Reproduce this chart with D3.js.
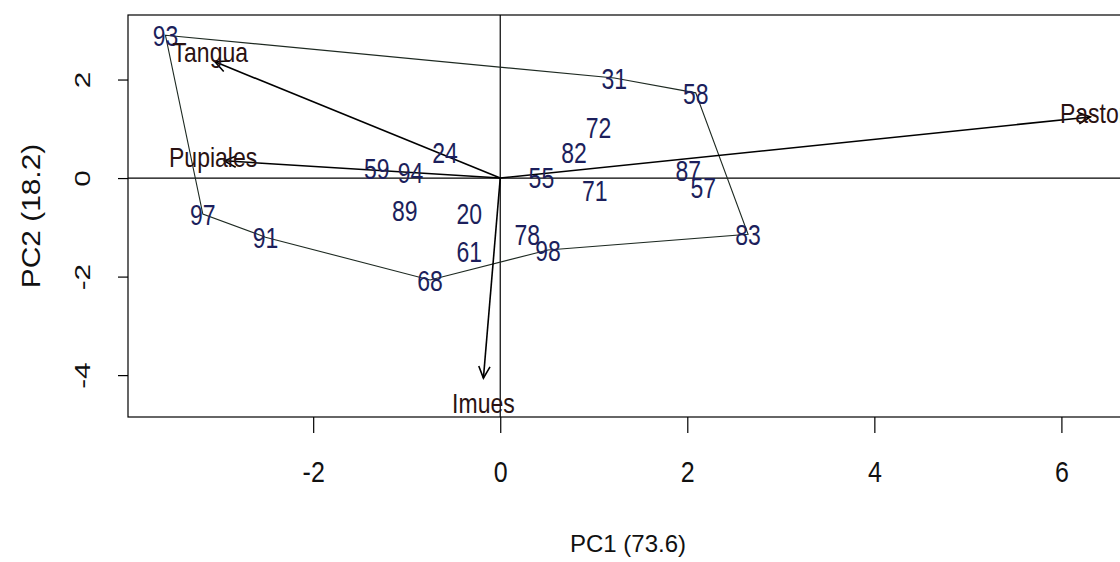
<!DOCTYPE html>
<html lang="en">
  <head>
    <meta charset="UTF-8" />
    <title>PCA biplot</title>
    <script src="https://cdn.jsdelivr.net/npm/d3@7"></script>
    <style>
      body { margin: 0; background: #fff; }
      text { font-family: "Liberation Sans", Arial, sans-serif; }
    </style>
  </head>
  <body>
    <svg width="1120" height="562"></svg>
    <script>
      // sample scores (PC1, PC2)
      const sampleIds = ["93", "31", "58", "72", "82", "24", "59", "94", "55", "71", "87",
                         "57", "83", "97", "91", "89", "20", "61", "78", "98", "68"];
      const pc1 = [-3.58, 1.22, 2.09, 1.05, 0.79, -0.59, -1.32, -0.96, 0.44, 1.01, 2.01,
                   2.17, 2.65, -3.18, -2.51, -1.02, -0.33, -0.33, 0.29, 0.51, -0.75];
      const pc2 = [2.90, 2.03, 1.73, 1.04, 0.53, 0.53, 0.20, 0.12, 0.02, -0.24, 0.16,
                   -0.18, -1.14, -0.73, -1.20, -0.65, -0.71, -1.48, -1.14, -1.46, -2.07];

      // outline drawn around the samples
      const hullOrder = ["93", "31", "58", "83", "98", "68", "91", "97"];

      // variable loadings (arrows) and where their names sit
      const varNames = ["Tangua", "Pupiales", "Pastor", "Imues"];
      const varPC1 = [-3.05, -2.95, 6.31, -0.18];
      const varPC2 = [2.36, 0.35, 1.24, -4.06];
      const varLabelPC1 = [-3.10, -3.07, 6.34, -0.18];
      const varLabelPC2 = [2.56, 0.43, 1.32, -4.57];

      const xTicks = [-2, 0, 2, 4, 6];
      const yTicks = [-4, -2, 0, 2];
      const xTitle = "PC1 (73.6)";
      const yTitle = "PC2 (18.2)";

      const svg = d3.select("svg");
      const box = { left: 128, top: 15, bottom: 417, right: 1125 };

      const x = d3.scaleLinear().domain([-3.98, 6.68]).range([box.left, box.right]);
      const y = d3.scaleLinear().domain([-4.85, 3.31]).range([box.bottom, box.top]);

      // frame
      svg.append("rect")
        .attr("x", box.left).attr("y", box.top)
        .attr("width", box.right - box.left).attr("height", box.bottom - box.top)
        .attr("fill", "none").attr("stroke", "#000").attr("stroke-width", 1.2);

      // zero lines
      svg.append("line")
        .attr("x1", box.left).attr("x2", box.right)
        .attr("y1", y(0)).attr("y2", y(0))
        .attr("stroke", "#000").attr("stroke-width", 1.2);
      svg.append("line")
        .attr("x1", x(0)).attr("x2", x(0))
        .attr("y1", box.top).attr("y2", box.bottom)
        .attr("stroke", "#000").attr("stroke-width", 1.2);

      // x axis
      const gx = svg.append("g")
        .attr("transform", `translate(0,${box.bottom})`)
        .call(d3.axisBottom(x).tickValues(xTicks).tickSize(16));
      gx.select(".domain").remove();
      gx.selectAll("line").attr("stroke", "#000").attr("stroke-width", 1.2);
      gx.selectAll("text")
        .attr("y", null).attr("dy", null)
        .attr("transform", "translate(0,65) scale(1,1.2)")
        .attr("font-size", 25).attr("fill", "#111")
        .text(d => String(d));

      // y axis
      const gy = svg.append("g")
        .attr("transform", `translate(${box.left},0)`)
        .call(d3.axisLeft(y).tickValues(yTicks).tickSize(10));
      gy.select(".domain").remove();
      gy.selectAll("line").attr("stroke", "#000").attr("stroke-width", 1.2);
      gy.selectAll("text")
        .attr("x", null).attr("dy", null)
        .attr("text-anchor", "middle")
        .attr("transform", "translate(-38,0) rotate(-90) scale(1.35,1)")
        .attr("font-size", 22).attr("fill", "#111")
        .text(d => String(d));

      // axis titles
      svg.append("text")
        .attr("x", 628).attr("y", 552)
        .attr("text-anchor", "middle")
        .attr("font-size", 24).attr("fill", "#111")
        .text(xTitle);
      svg.append("text")
        .attr("transform", "translate(40,216) rotate(-90) scale(1.15,1)")
        .attr("text-anchor", "middle")
        .attr("font-size", 26).attr("fill", "#111")
        .text(yTitle);

      // sample outline
      const idx = id => sampleIds.indexOf(id);
      const hullPts = hullOrder.map(id => [x(pc1[idx(id)]), y(pc2[idx(id)])]);
      svg.append("path")
        .attr("d", d3.line()(hullPts) + "Z")
        .attr("fill", "none")
        .attr("stroke", "#1e2a22")
        .attr("stroke-width", 1.1);

      // variable arrows
      const arrows = svg.append("g").attr("stroke", "#000").attr("stroke-width", 1.6).attr("fill", "none");
      varNames.forEach((name, i) => {
        const x0 = x(0), y0 = y(0);
        const x1 = x(varPC1[i]), y1 = y(varPC2[i]);
        const a = Math.atan2(y1 - y0, x1 - x0);
        const len = 13, spread = Math.PI / 7;
        arrows.append("line")
          .attr("x1", x0).attr("y1", y0).attr("x2", x1).attr("y2", y1);
        arrows.append("path")
          .attr("d", d3.line()([
            [x1 - len * Math.cos(a - spread), y1 - len * Math.sin(a - spread)],
            [x1, y1],
            [x1 - len * Math.cos(a + spread), y1 - len * Math.sin(a + spread)]
          ]));
      });

      // sample labels
      svg.append("g").selectAll("text")
        .data(sampleIds)
        .join("text")
        .attr("transform", (d, i) => `translate(${x(pc1[i])},${y(pc2[i])}) scale(1,1.3)`)
        .attr("text-anchor", "middle")
        .attr("dy", "0.36em")
        .attr("font-size", 23)
        .attr("fill", "#1c1f5c")
        .text(d => d);

      // variable labels
      svg.append("g").selectAll("text")
        .data(varNames)
        .join("text")
        .attr("transform", (d, i) => `translate(${x(varLabelPC1[i])},${y(varLabelPC2[i])}) scale(1,1.2)`)
        .attr("text-anchor", "middle")
        .attr("dy", "0.36em")
        .attr("font-size", 23)
        .attr("fill", "#2a1212")
        .text(d => d);
    </script>
  </body>
</html>
